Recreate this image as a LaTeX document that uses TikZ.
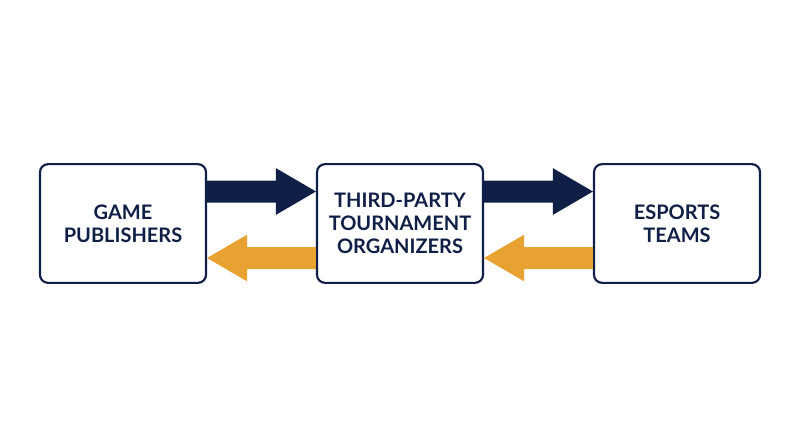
\documentclass[tikz,border=0pt]{standalone}
\usepackage{fontspec}
\setmainfont{Lato}
\usetikzlibrary{calc}
\definecolor{navy}{HTML}{0F1F45}
\definecolor{gold}{HTML}{E8A232}
\tikzset{
	box/.style={draw=navy, line width=1.6pt, rounded corners=6pt, fill=white,
		minimum width=124.5pt, minimum height=89pt, align=center,
		font=\bfseries\fontsize{15}{17.5}\selectfont, text=navy},
}
\newcommand{\flowarrow}[4]{% color, from, to, head length (signed)
	\fill[#1] ($(#2)+(0,8.25pt)$) -- ($(#3)+(#4,8.25pt)$) -- ($(#3)+(#4,17.5pt)$)
		-- (#3) -- ($(#3)+(#4,-17.5pt)$) -- ($(#3)+(#4,-8.25pt)$)
		-- ($(#2)+(0,-8.25pt)$) -- cycle;
}
\begin{document}
\begin{tikzpicture}[x=0.75pt,y=-0.75pt]
		\useasboundingbox (0,0) rectangle (800,447);

		\node[box] (pub) at (123,223.5) {GAME\\PUBLISHERS};
		\node[box] (org) at (400,223.5) {THIRD-PARTY\\TOURNAMENT\\ORGANIZERS};
		\node[box] (team) at (677,223.5) {ESPORTS\\TEAMS};

		% going right
		\coordinate (a1) at ($(pub.east)+(0,-32)$);
		\coordinate (b1) at ($(org.west)+(0,-32)$);
		\coordinate (a2) at ($(org.east)+(0,-32)$);
		\coordinate (b2) at ($(team.west)+(0,-32)$);
		\flowarrow{navy}{a1}{b1}{-30pt}
		\flowarrow{navy}{a2}{b2}{-30pt}

		% going back left
		\coordinate (c1) at ($(org.west)+(0,34.5)$);
		\coordinate (d1) at ($(pub.east)+(0,34.5)$);
		\coordinate (c2) at ($(team.west)+(0,34.5)$);
		\coordinate (d2) at ($(org.east)+(0,34.5)$);
		\flowarrow{gold}{c1}{d1}{30pt}
		\flowarrow{gold}{c2}{d2}{30pt}
	\end{tikzpicture}
\end{document}
